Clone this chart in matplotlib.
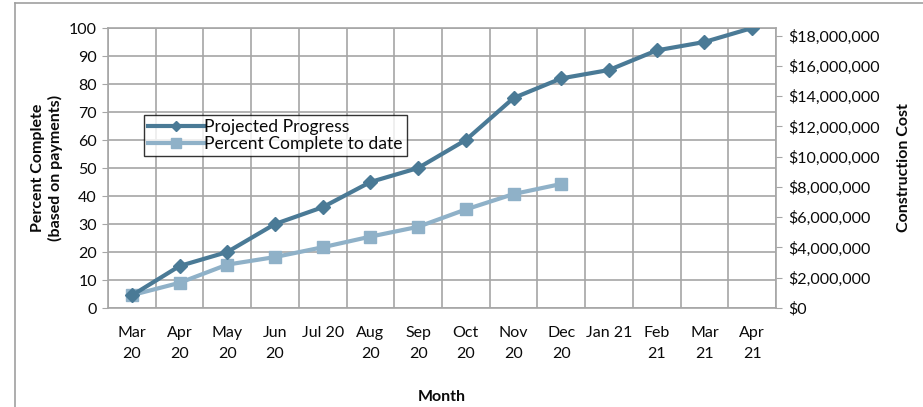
import matplotlib
matplotlib.use("Agg")
import matplotlib.pyplot as plt
from matplotlib.lines import Line2D
from matplotlib.ticker import FuncFormatter, MultipleLocator, FixedLocator

plt.rcParams['font.family'] = ['Lato', 'DejaVu Sans']

# Data
months = ['Mar\n20', 'Apr\n20', 'May\n20', 'Jun\n20', 'Jul 20', 'Aug\n20', 'Sep\n20',
          'Oct\n20', 'Nov\n20', 'Dec\n20', 'Jan 21', 'Feb\n21', 'Mar\n21', 'Apr\n21']
projected = [4.5, 15, 20, 30, 36, 45, 50, 60, 75, 82, 85, 92, 95, 100]
actual = [4.6, 9, 15.5, 18.2, 21.7, 25.5, 29, 35.2, 40.7, 44.3]

dark = '#4a7a96'
light = '#8fb1c8'
grid_c = '#a6a6a6'
text_c = '#0a0a0a'
fs = 11.5

fig = plt.figure(figsize=(9.23, 4.07), dpi=100)
ax = fig.add_axes([0.117, 0.2432, 0.7237, 0.688])

x_proj = list(range(len(projected)))
x_act = list(range(len(actual)))

ax.plot(x_proj, projected, color=dark, lw=3, marker='D', ms=7,
        label='Projected Progress', zorder=4)
ax.plot(x_act, actual, color=light, lw=3, marker='s', ms=9,
        label='Percent Complete to date', zorder=3)

ax.set_xlim(-0.5, len(months) - 0.5)
ax.set_ylim(0, 100)
ax.yaxis.set_major_locator(MultipleLocator(10))
ax.set_xticks(x_proj)
ax.set_xticklabels(months, fontsize=fs, color=text_c, linespacing=1.65)
ax.xaxis.set_minor_locator(FixedLocator([i - 0.5 for i in range(len(months) + 1)]))
ax.tick_params(axis='x', which='major', length=0, pad=13)
ax.tick_params(axis='x', which='minor', length=0)
ax.tick_params(axis='y', length=4, color=grid_c, labelsize=fs, labelcolor=text_c, pad=4)
ax.grid(True, axis='y', which='major', color=grid_c, lw=1.2)
ax.grid(True, axis='x', which='minor', color=grid_c, lw=1.2)
for s in ax.spines.values():
    s.set_color(grid_c)
    s.set_linewidth(1.2)

ax.set_ylabel('Percent Complete\n(based on payments)', fontsize=fs, fontweight='bold',
              color=text_c, labelpad=4, linespacing=1.3)
ax.set_xlabel('Month', fontsize=fs, fontweight='bold', color=text_c, labelpad=21)

# Secondary axis for cost
ax2 = ax.twinx()
ax2.set_ylim(0, 18.5e6)
ax2.yaxis.set_major_locator(MultipleLocator(2e6))
ax2.yaxis.set_major_formatter(FuncFormatter(lambda v, p: '${:,.0f}'.format(v)))
ax2.tick_params(axis='y', length=4, color=grid_c, labelsize=fs, labelcolor=text_c, pad=5)
for s in ax2.spines.values():
    s.set_visible(False)
ax2.set_ylabel('Construction Cost', fontsize=fs, fontweight='bold', color=text_c, labelpad=12)

leg = ax.legend(loc='upper left', bbox_to_anchor=(0.054, 0.69), borderaxespad=0,
                fontsize=12.6, frameon=True, fancybox=False, handlelength=3.2,
                handletextpad=0.0, borderpad=0.25, labelspacing=0.05,
                markerscale=0.8)
leg.get_frame().set_edgecolor('black')
leg.get_frame().set_linewidth(1.0)
for t in leg.get_texts():
    t.set_color(text_c)

# Chart area border (clipped at right/bottom as in the source)
fig.add_artist(Line2D([15 / 923, 1.0], [1 - 3 / 407, 1 - 3 / 407], color='#a0a0a0', lw=1.2))
fig.add_artist(Line2D([15 / 923, 15 / 923], [0, 1 - 3 / 407], color='#a0a0a0', lw=1.2))

fig.savefig('out.png', dpi=100)
